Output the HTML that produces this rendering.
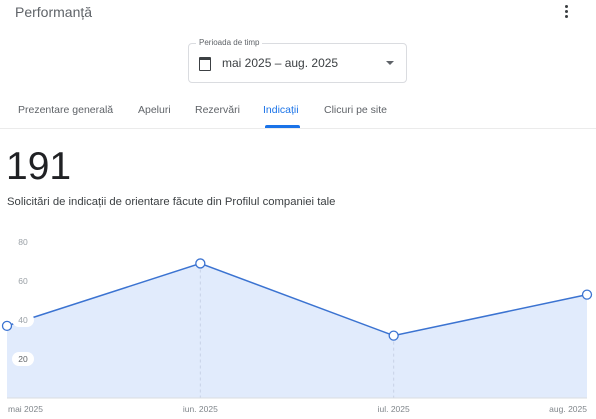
<!DOCTYPE html>
<html><head><meta charset="utf-8"><style>
body{margin:0;width:596px;height:419px;overflow:hidden;background:#fff;font-family:"Liberation Sans",sans-serif;color:#3c4043;position:relative}
.abs{position:absolute}
</style></head><body>
<div class="abs" style="left:15px;top:4px;font-size:14px;color:#5f6368">Performanță</div>
<div class="abs" style="left:563px;top:5px;width:8px;height:14px">
  <div class="abs" style="left:2px;top:0;width:3px;height:3px;border-radius:50%;background:#3c4043"></div>
  <div class="abs" style="left:2px;top:5px;width:3px;height:3px;border-radius:50%;background:#3c4043"></div>
  <div class="abs" style="left:2px;top:10px;width:3px;height:3px;border-radius:50%;background:#3c4043"></div>
</div>
<div class="abs" style="left:188px;top:43px;width:217px;height:38px;border:1px solid #dadce0;border-radius:4px">
  <div class="abs" style="left:7px;top:-6px;background:#fff;padding:0 3px;font-size:8px;color:#5f6368">Perioada de timp</div>
  <div class="abs" style="left:10px;top:13px;width:10px;height:10px;border:1.5px solid #3c4043;border-top-width:3px;border-radius:1px"></div>
  <div class="abs" style="left:33px;top:12px;font-size:12px;color:#3c4043">mai 2025 – aug. 2025</div>
  <div class="abs" style="left:197px;top:17px;width:0;height:0;border-left:4px solid transparent;border-right:4px solid transparent;border-top:4px solid #5f6368"></div>
</div>
<div class="abs" style="left:0;top:104px;width:596px;height:24px;border-bottom:1px solid #ebebeb;font-size:10.5px;color:#5f6368">
  <span class="abs" style="left:18px">Prezentare generală</span>
  <span class="abs" style="left:138px">Apeluri</span>
  <span class="abs" style="left:195px">Rezervări</span>
  <span class="abs" style="left:263px;color:#1a73e8">Indicații</span>
  <span class="abs" style="left:324px">Clicuri pe site</span>
  <div class="abs" style="left:265px;top:21px;width:35px;height:3px;background:#1a73e8;border-radius:2px 2px 0 0"></div>
</div>
<div class="abs" style="left:6px;top:145px;font-size:39px;color:#202124">191</div>
<div class="abs" style="left:7px;top:196px;font-size:11.3px;color:#3c4043">Solicitări de indicații de orientare făcute din Profilul companiei tale</div>
<svg class="abs" style="left:0;top:0" width="596" height="419" id="chart"></svg>
<script>
const categories=["mai 2025","iun. 2025","iul. 2025","aug. 2025"];
const values=[37,69,32,53];
const yTicks=[20,40,60,80];
const svg=document.getElementById('chart');
const NS='http://www.w3.org/2000/svg';
const x0=7,x1=587,yBase=398,yScale=1.95;
const X=i=>x0+i*(x1-x0)/(categories.length-1);
const Y=v=>yBase-v*yScale;
function mk(t,a){const e=document.createElementNS(NS,t);for(const k in a)e.setAttribute(k,a[k]);svg.appendChild(e);return e;}
let pts=values.map((v,i)=>X(i)+','+Y(v)).join(' ');
const area=mk('polygon',{points:X(0)+','+yBase+' '+pts+' '+X(values.length-1)+','+yBase,fill:'#e1ebfc'});


categories.forEach((c,i)=>{
  if(i>0&&i<categories.length-1){const g=mk('line',{x1:X(i),x2:X(i),y1:Y(values[i]),y2:yBase,stroke:'#c8d2e6','stroke-dasharray':'3,3'});
  
  }
  const anchor=i==0?'start':(i==categories.length-1?'end':'middle');
  const t=mk('text',{x:i==0?X(i)+1:X(i),y:412,'font-size':'8.5','fill':'#80868b','text-anchor':anchor});t.textContent=c;
  
  
});
const base=mk('line',{x1:x0,x2:x1,y1:yBase,y2:yBase,stroke:'#dadce0'});


const line=mk('polyline',{points:pts,fill:'none',stroke:'#3b73d1','stroke-width':'1.5'});


yTicks.forEach(v=>{
  if(v<=40){const r=mk('rect',{x:12,y:Y(v)-7,width:22,height:14,rx:7,fill:'#fff'});
  
  }
  const t=mk('text',{x:23,y:Y(v)+3,'font-size':'8.5','fill':v<=20?'#5f6368':'#9aa0a6','text-anchor':'middle'});t.textContent=v;
  
  
});
values.forEach((v,i)=>{const c=mk('circle',{cx:X(i),cy:Y(v),r:4.5,fill:'#fff',stroke:'#3b73d1','stroke-width':'1.3'});
  
  });
</script>
</body></html>
